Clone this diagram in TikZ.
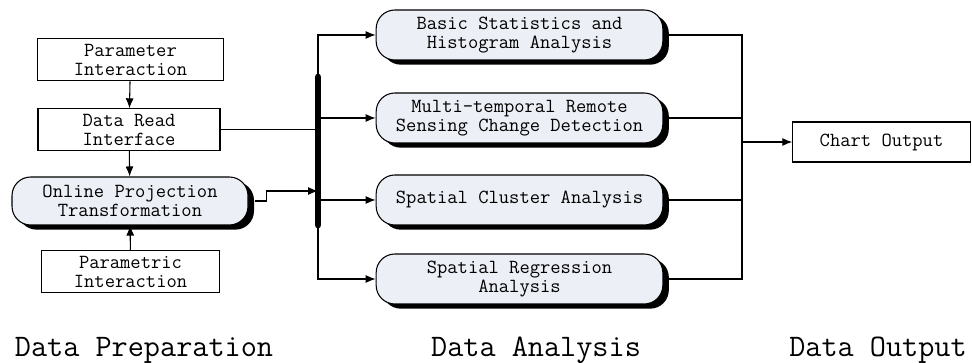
\documentclass[tikz,border=0pt]{standalone}
\usepackage{fontspec}
\usetikzlibrary{arrows.meta, shadows, calc}
\definecolor{procfill}{RGB}{236,239,245}
\tikzset{
  plainbox/.style={draw, line width=0.8pt, align=center, inner sep=0pt, font=\ttfamily\fontsize{15}{14.2}\selectfont},
  procbox/.style={plainbox, rounded corners=14pt, fill=procfill,
    drop shadow={shadow xshift=4.5pt, shadow yshift=-3.5pt, fill=black, opacity=1}},
  stagelabel/.style={anchor=base, font=\ttfamily\fontsize{23.5}{26}\selectfont}
}
\begin{document}
\begin{tikzpicture}[x=0.75pt, y=-0.75pt, >={Latex[length=7.5pt,width=6pt]}, line width=0.8pt]
    \useasboundingbox (0,0) rectangle (972,363);
    % data preparation
    \node[plainbox, minimum width=139pt, minimum height=32pt] (param) at (130.5,59.5) {Parameter\\Interaction};
    \node[plainbox, minimum width=136.5pt, minimum height=31pt] (read) at (129,129.5) {Data Read\\Interface};
    \node[procbox, minimum width=177pt, minimum height=36pt] (online) at (130,201) {Online Projection\\Transformation};
    \node[plainbox, minimum width=134pt, minimum height=31pt] (paramt) at (130.5,271.5) {Parametric\\Interaction};
    \draw[->] (param) -- (read);
    \draw[->] (read) -- (online);
    \draw[->] (paramt) -- (online);
    % data analysis
    \node[procbox, minimum width=215pt, minimum height=37.5pt] (basic) at (519.5,35) {Basic Statistics and\\Histogram Analysis};
    \node[procbox, minimum width=215pt, minimum height=37.5pt] (change) at (519.5,118) {Multi-temporal Remote\\Sensing Change Detection};
    \node[procbox, minimum width=215pt, minimum height=37.5pt] (cluster) at (519.5,200) {Spatial Cluster Analysis};
    \node[procbox, minimum width=215pt, minimum height=37.5pt] (regress) at (519.5,279) {Spatial Regression\\Analysis};
    \coordinate (bartop) at (318,77);
    \coordinate (barbot) at (318,225);
    \coordinate (onin) at (318,191);
    \draw[line width=5pt, line cap=round] (bartop) -- (barbot);
    \draw (read.east) -- (bartop|-read);
    \draw[->] ([xshift=5pt]online.east) -- ++(11,0) |- (onin);
    \draw[->] (bartop) |- (basic);
    \draw[->] (bartop|-change) -- (change);
    \draw[->] (bartop|-cluster) -- (cluster);
    \draw[->] (barbot) |- (regress);
    % data output
    \node[plainbox, minimum width=133pt, minimum height=30pt] (chart) at (881.5,142) {Chart Output};
    \coordinate (join) at (742,142);
    \draw (basic.east) -| (join);
    \draw (change.east) -| (join);
    \draw (cluster.east) -| (join);
    \draw (regress.east) -| (join);
    \draw[->] (join) -- (chart);
    % stage labels
    \node[stagelabel] (prep) at (144,357) {Data Preparation};
    \node[stagelabel] (analysis) at (536,357) {Data Analysis};
    \node[stagelabel] (output) at (878,357) {Data Output};
\end{tikzpicture}
\end{document}
